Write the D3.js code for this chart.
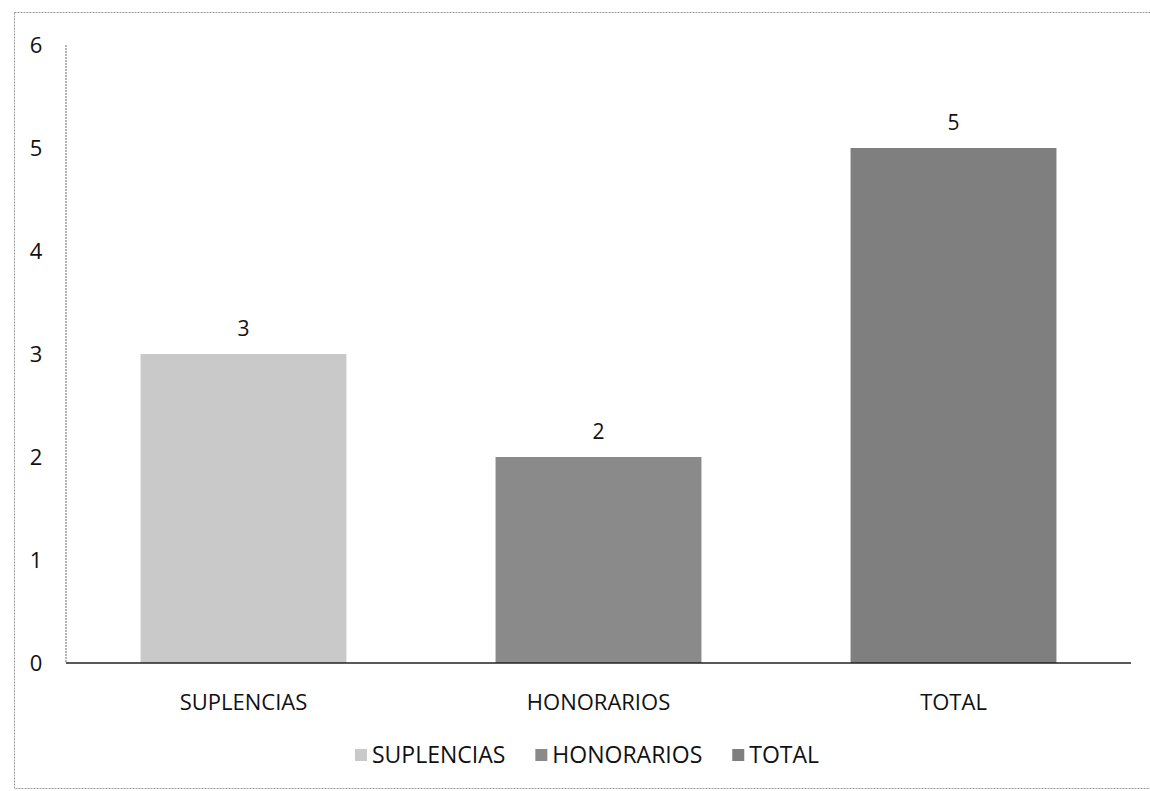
<!DOCTYPE html>
<html>
<head>
<meta charset="utf-8">
<script src="https://cdn.jsdelivr.net/npm/d3@7"></script>
<style>
  body { margin: 0; background: #fff; }
  text { font-family: "Open Sans", "Liberation Sans", sans-serif; fill: #111; }
</style>
</head>
<body>
<div id="chart"></div>
<script>
// data
var categories = ["SUPLENCIAS", "HONORARIOS", "TOTAL"];
var values = [3, 2, 5];
var colors = ["#c9c9c9", "#8a8a8a", "#7f7f7f"];
var yTicks = [0, 1, 2, 3, 4, 5, 6];

var W = 1150, H = 791;
var margin = {top: 45, right: 19, bottom: 128, left: 66},
    width = W - margin.left - margin.right,
    height = H - margin.top - margin.bottom;

var root = d3.select("#chart").append("svg")
  .attr("width", W)
  .attr("height", H);

// outer frame (right side runs off the page like the scan)
root.append("rect")
  .attr("x", 14.5).attr("y", 12.5)
  .attr("width", 1160).attr("height", 776)
  .attr("fill", "none")
  .attr("stroke", "#9a9a9a")
  .attr("stroke-dasharray", "2,1");

var svg = root.append("g")
  .attr("transform", "translate(" + margin.left + "," + margin.top + ")");

var x = d3.scaleBand()
  .domain(categories)
  .range([0, width])
  .paddingInner(0.42)
  .paddingOuter(0.21);

var y = d3.scaleLinear()
  .domain([0, 6])
  .range([height, 0]);

// y axis line (no ticks) and labels
svg.append("line")
  .attr("x1", 0).attr("x2", 0)
  .attr("y1", y(6)).attr("y2", y(0))
  .attr("stroke", "#666")
  .attr("stroke-dasharray", "2,1");

svg.selectAll(".ylab")
  .data(yTicks)
  .enter().append("text")
  .attr("class", "ylab")
  .attr("x", -30)
  .attr("y", function(d) { return y(d); })
  .attr("dy", "0.35em")
  .attr("text-anchor", "middle")
  .attr("font-size", "22px")
  .text(function(d) { return d; });

// bars
svg.selectAll(".bar")
  .data(values)
  .enter().append("rect")
  .attr("class", "bar")
  .attr("x", function(d, i) { return x(categories[i]); })
  .attr("y", function(d) { return y(d); })
  .attr("width", x.bandwidth())
  .attr("height", function(d) { return height - y(d); })
  .attr("fill", function(d, i) { return colors[i]; });

// baseline
svg.append("line")
  .attr("x1", 0).attr("x2", width)
  .attr("y1", y(0)).attr("y2", y(0))
  .attr("stroke", "#222")
  .attr("stroke-width", 1.3);

// value labels
svg.selectAll(".val")
  .data(values)
  .enter().append("text")
  .attr("class", "val")
  .attr("x", function(d, i) { return x(categories[i]) + x.bandwidth() / 2; })
  .attr("y", function(d) { return y(d) - 25; })
  .attr("dy", "0.35em")
  .attr("text-anchor", "middle")
  .attr("font-size", "21px")
  .text(function(d) { return d; });

// category labels
svg.selectAll(".cat")
  .data(categories)
  .enter().append("text")
  .attr("class", "cat")
  .attr("x", function(d) { return x(d) + x.bandwidth() / 2; })
  .attr("y", height + 39)
  .attr("dy", "0.35em")
  .attr("text-anchor", "middle")
  .attr("font-size", "22px")
  .text(function(d) { return d; });

// legend, centred under the plot
var legend = root.append("g");
var item = legend.selectAll(".leg")
  .data(categories)
  .enter().append("g")
  .attr("class", "leg");

item.append("rect")
  .attr("x", 0).attr("y", -6)
  .attr("width", 12).attr("height", 12)
  .attr("fill", function(d, i) { return colors[i]; });

item.append("text")
  .attr("x", 17)
  .attr("y", 0)
  .attr("dy", "0.35em")
  .attr("font-size", "23px")
  .text(function(d) { return d; });

var pos = 0, offs = [];
item.each(function() {
  offs.push(pos);
  pos += 17 + d3.select(this).select("text").node().getComputedTextLength() + 30;
});
pos -= 30;
item.attr("transform", function(d, i) { return "translate(" + offs[i] + ",0)"; });
legend.attr("transform", "translate(" + (587 - pos / 2) + ",755)");
</script>
</body>
</html>
